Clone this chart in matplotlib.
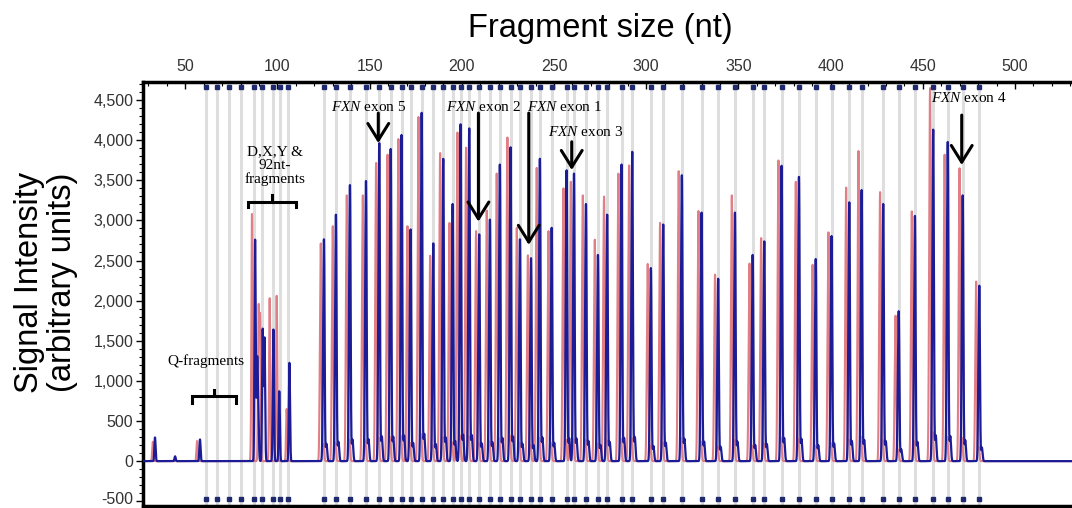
import numpy as np
import matplotlib.pyplot as plt
from matplotlib.ticker import MultipleLocator, FuncFormatter
from matplotlib.transforms import ScaledTranslation

plt.rcParams['font.family'] = ['Liberation Sans', 'DejaVu Sans']
plt.rcParams['mathtext.fontset'] = 'custom'
plt.rcParams['mathtext.it'] = 'Liberation Serif:italic'
plt.rcParams['mathtext.rm'] = 'Liberation Serif'

# MLPA probe peaks: fragment size (nt), sample (blue) and reference (red) heights
probe_nt = [125.3, 131.8, 139.4, 148.1, 155.3, 161.5, 167.4, 172.3, 178.3, 184.6,
            190.0, 195.1, 199.4, 204.1, 209.5, 215.3, 220.7, 226.5, 231.6, 237.6,
            242.4, 248.8, 256.9, 260.9, 267.4, 273.9, 278.9, 286.7, 292.5, 302.6,
            309.3, 319.4, 330.1, 339.1, 348.2, 357.8, 364.1, 373.5, 382.9, 392.0,
            400.6, 410.2, 416.9, 428.6, 437.0, 445.8, 455.7, 463.6, 471.7, 480.7]
blue_h = [2700, 3000, 3360, 3410, 3870, 3800, 3970, 2820, 4240, 2650,
          3680, 3130, 4100, 4050, 2760, 2940, 3610, 3820, 2700, 2470,
          3680, 2840, 3540, 3500, 3130, 2510, 3000, 3610, 3765, 2350,
          2880, 3480, 3025, 2220, 3025, 2510, 2675, 3595, 3460, 2460,
          2740, 3150, 3300, 3130, 1825, 2985, 4035, 3885, 3235, 2135]
red_h = [2650, 2860, 3235, 3235, 3630, 3730, 3920, 2860, 4190, 2500,
         3750, 2900, 4000, 3815, 2800, 3050, 3500, 3940, 2840, 2505,
         3570, 2800, 3320, 3400, 3235, 2695, 3220, 3500, 3600, 2400,
         2900, 3530, 3045, 2270, 3235, 2405, 2715, 3660, 3400, 2390,
         2785, 3330, 3775, 3275, 1770, 3040, 4540, 3730, 3565, 2185]

# control fragments (Q, D, X, Y and 92 nt)
ctrl_blue_nt = [33.6, 44.5, 58.0, 87.9, 89.0, 89.6, 92.0, 93.0, 97.8, 101.0, 106.5]
ctrl_blue_h = [295, 60, 270, 2757, 1180, 600, 1640, 1530, 1640, 870, 1225]
ctrl_red_nt = [32.4, 56.4, 86.2, 89.8, 90.6, 95.8, 99.6, 105.0]
ctrl_red_h = [240, 250, 3080, 1870, 1750, 2030, 2060, 650]

ctrl_bins = [61.1, 67.4, 73.8, 80.3, 87.3, 91.7, 97.6, 101.4, 105.8]
bin_nt = ctrl_bins + probe_nt

BLUE = '#1c1c96'
RED = '#e07f86'

x = np.arange(27.0, 531.0, 0.02)


def peaks(pos, hts, s=0.32):
    y = np.zeros_like(x)
    for p, h in zip(pos, hts):
        y += h * np.exp(-0.5 * ((x - p) / s) ** 2)
    return y


def probe_trace(pos, hts):
    pos = np.asarray(pos)
    hts = np.asarray(hts)
    # main peak with a lower shoulder just before it, scaled so the top equals h
    top = 1 + 0.45 * np.exp(-0.5 * (0.5 / 0.32) ** 2)
    y = peaks(pos, hts / top)
    y += peaks(pos - 0.5, 0.45 * hts / top)
    y += peaks(pos + 1.3, 0.08 * hts, s=0.4)
    return y


red_nt = np.asarray(probe_nt) - 1.7
blue = probe_trace(probe_nt, blue_h) + peaks(ctrl_blue_nt, ctrl_blue_h)
red = probe_trace(red_nt, red_h) + peaks(ctrl_red_nt, ctrl_red_h)

fig = plt.figure(figsize=(10.72, 5.08), dpi=100)
ax = fig.add_axes([143 / 1072, 0.003, 1 - 143 / 1072, (508 - 82 - 1.5) / 508])

for b in bin_nt:
    ax.axvline(b, color='#dedede', lw=2.2, zorder=1)

ax.plot(x, red, color=RED, lw=1.5, zorder=2)
ax.plot(x, blue, color=BLUE, lw=1.6, zorder=3)

ax.plot(bin_nt, [4668] * len(bin_nt), 's', ms=3.4, color='#1f2a6e', zorder=4)
ax.plot(bin_nt, [-468] * len(bin_nt), 's', ms=3.4, color='#1f2a6e', zorder=4)

ax.set_xlim(27.1, 530.9)
ax.set_ylim(-565, 4725)

ax.xaxis.tick_top()
ax.set_xticks([50, 100, 150, 200, 250, 300, 350, 400, 450, 500])
ax.xaxis.set_minor_locator(MultipleLocator(10))
ax.yaxis.set_major_locator(MultipleLocator(500))
ax.yaxis.set_minor_locator(MultipleLocator(100))
ax.yaxis.set_major_formatter(FuncFormatter(lambda v, p: '{:,}'.format(int(v))))
ax.tick_params(axis='x', which='major', direction='in', length=5, width=1,
               labelsize=11.5, labelcolor='#333333', pad=6)
ax.tick_params(axis='x', which='minor', direction='in', length=3, width=0.8)
ax.tick_params(axis='y', which='major', direction='out', length=5, width=1,
               labelsize=11.5, labelcolor='#333333', pad=2)
ax.tick_params(axis='y', which='minor', direction='out', length=3, width=0.8)

for side in ['left', 'top', 'bottom']:
    ax.spines[side].set_linewidth(2.5)
ax.spines['right'].set_visible(False)

fig.text(600 / 1072, 1 - 28 / 508, 'Fragment size (nt)', ha='center', va='center',
         fontsize=23.5)
fig.text(46 / 1072, 1 - 282 / 508, 'Signal Intensity\n(arbitrary units)', rotation=90,
         ha='center', va='center', fontsize=23.5, linespacing=1.05)

serif = dict(family='Liberation Serif', fontsize=11, ha='center', va='center', zorder=6)
arrow = dict(arrowstyle='->,head_length=0.8,head_width=0.5', lw=2.2, color='black',
             mutation_scale=15, shrinkA=0, shrinkB=0)

labels = [
    ('$\\mathit{FXN}$ exon 5', 149.7, 4411, 154.7, 4337, 3964),
    ('$\\mathit{FXN}$ exon 2', 211.5, 4411, 209.0, 4337, 2985),
    ('$\\mathit{FXN}$ exon 1', 255.4, 4411, 236.3, 4337, 2695),
    ('$\\mathit{FXN}$ exon 3', 267.4, 4101, 259.6, 3980, 3628),
    ('$\\mathit{FXN}$ exon 4', 475.1, 4524, 471.1, 4312, 3690),
]
for txt, tx, ty, ax_x, y0, y1 in labels:
    ax.text(tx, ty, txt, **serif)
    ax.annotate('', xy=(ax_x, y1), xytext=(ax_x, y0), arrowprops=arrow, zorder=6)

ax.text(98.7, 3678, 'D,X,Y &\n92nt-\nfragments', linespacing=1.05, **serif)
ax.text(61.0, 1244, 'Q-fragments', **serif)

# brackets
for x0, x1, yb, ye, yt in [(84.2, 110.1, 3234, 3164, 3317), (53.5, 77.6, 808, 726, 892)]:
    xm = (x0 + x1) / 2
    ax.plot([x0, x0, x1, x1], [ye, yb, yb, ye], color='black', lw=2.2, zorder=6,
            solid_joinstyle='miter')
    ax.plot([xm, xm], [yb, yt], color='black', lw=2.2, zorder=6)

# lift the lowest y label a little so it stays inside the figure
fig.canvas.draw()
for t in ax.yaxis.get_major_ticks():
    if abs(t.get_loc() + 500) < 1:
        t.label1.set_transform(t.label1.get_transform() +
                               ScaledTranslation(0, 2.5 / 72, fig.dpi_scale_trans))

fig.savefig('out.png', dpi=100)
